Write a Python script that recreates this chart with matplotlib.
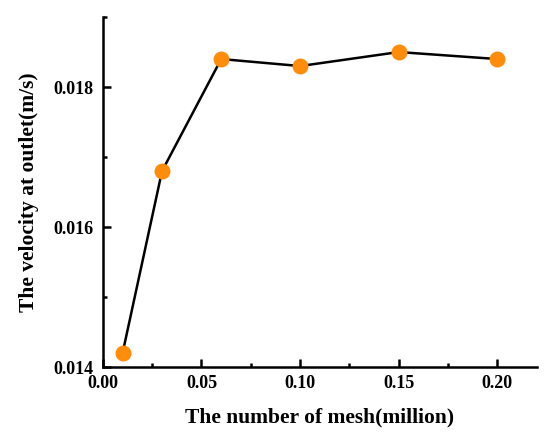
import numpy as np
import matplotlib.pyplot as plt
from matplotlib.ticker import MultipleLocator

plt.rcParams['font.family'] = ['Liberation Serif', 'DejaVu Serif']
plt.rcParams['font.weight'] = 'bold'

# mesh size (million) and outlet velocity (m/s)
mesh = [0.01, 0.03, 0.06, 0.10, 0.15, 0.20]
velocity = [0.0142, 0.0168, 0.0184, 0.0183, 0.0185, 0.0184]

fig = plt.figure(figsize=(5.5, 4.37), dpi=100)
ax = fig.add_axes([0.187, 0.160, 0.789, 0.801])

ax.plot(mesh, velocity, color="black", lw=1.8, zorder=2)
ax.plot(mesh, velocity, "o", color="#ff8c0a", ms=11.5, mec="none", zorder=3)

ax.set_xlim(0, 0.22)
ax.set_ylim(0.014, 0.019)
ax.xaxis.set_major_locator(MultipleLocator(0.05))
ax.xaxis.set_minor_locator(MultipleLocator(0.025))
ax.yaxis.set_major_locator(MultipleLocator(0.002))
ax.yaxis.set_minor_locator(MultipleLocator(0.001))
ax.xaxis.set_major_formatter(plt.FormatStrFormatter("%.2f"))
ax.yaxis.set_major_formatter(plt.FormatStrFormatter("%.3f"))

for s in ["top", "right"]:
    ax.spines[s].set_visible(False)
for s in ["left", "bottom"]:
    ax.spines[s].set_linewidth(1.8)

ax.tick_params(which="both", direction="in", width=1.8, labelsize=13)
ax.tick_params(which="major", length=6)
ax.tick_params(which="minor", length=3)
ax.tick_params(axis="x", pad=6)
ax.tick_params(axis="y", pad=7)

ax.set_xlabel("The number of mesh(million)", fontsize=15.5, fontweight="bold", labelpad=11)
ax.set_ylabel("The velocity at outlet(m/s)", fontsize=15.5, fontweight="bold", labelpad=10)

fig.savefig("out.png", dpi=100)
